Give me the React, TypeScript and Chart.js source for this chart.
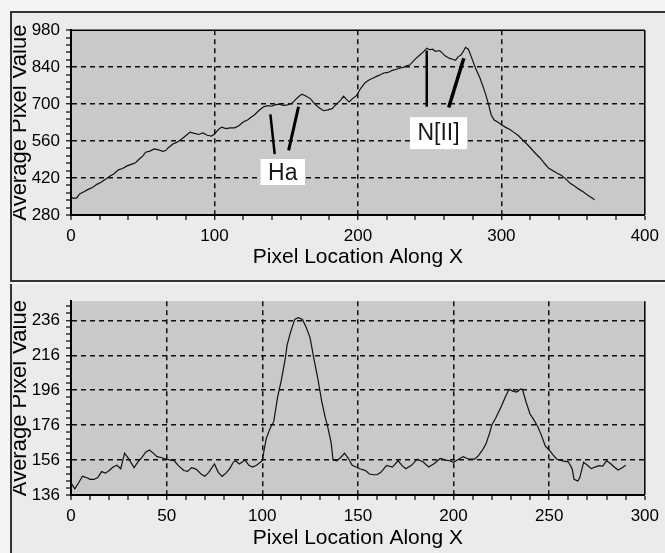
import { useEffect, useRef } from "react";
import { Chart, registerables } from "chart.js";

Chart.register(...registerables);

const FONT = "'Liberation Sans', Arial, sans-serif";

// upper profile (full spectrum)
const topX = [
  0, 2, 4, 6, 9, 12, 15, 18, 21, 24, 27, 30, 33, 36, 39, 42, 45, 48, 50, 52,
  55, 58, 61, 64, 66, 68, 71, 74, 77, 80, 83, 86, 89, 92, 95, 98, 100, 103, 105, 108,
  111, 114, 117, 120, 123, 126, 128, 131, 134, 137, 140, 142, 145, 148, 151, 154, 157, 159, 161, 164,
  167, 170, 173, 176, 179, 182, 185, 188, 190, 192, 194, 196, 199, 202, 205, 208, 211, 213, 216, 218,
  221, 224, 227, 229, 232, 234, 236, 239, 241, 243, 246, 248, 250, 252, 254, 257, 259, 261, 264, 266,
  268, 270, 272, 274, 275, 277, 279, 282, 285, 287, 289, 291, 293, 295, 298, 300, 303, 306, 309, 312,
  315, 318, 321, 324, 327, 330, 333, 336, 339, 342, 345, 348, 351, 354, 357, 360, 363, 365,
];
const topY = [
  347, 343, 345, 360, 368, 377, 384, 396, 404, 415, 427, 436, 451, 456, 466, 472, 478, 494, 503, 518,
  522, 530, 527, 521, 524, 536, 549, 556, 567, 580, 594, 589, 585, 591, 582, 579, 587, 605, 613, 607,
  610, 610, 618, 632, 640, 652, 660, 676, 689, 694, 692, 697, 700, 695, 697, 703, 720, 730, 738, 730,
  720, 700, 686, 675, 678, 683, 700, 715, 730, 718, 708, 720, 732, 760, 781, 792, 800, 805, 812, 818,
  820, 828, 832, 836, 840, 845, 848, 865, 876, 885, 900, 912, 906, 908, 900, 903, 892, 882, 873, 870,
  866, 880, 887, 905, 915, 908, 880, 836, 800, 770, 738, 700, 658, 640, 630, 622, 612, 604, 592, 580,
  563, 548, 530, 512, 496, 476, 457, 448, 438, 430, 416, 400, 390, 378, 368, 356, 345, 338,
];
const topXTicks = [0, 100, 200, 300, 400];
const topYTicks = [280, 420, 560, 700, 840, 980];

// lower profile (continuum removed)
const bottomX = [
  0, 2, 4, 6, 8, 10, 12, 14, 16, 18, 20, 22, 24, 26, 28, 30, 33, 35, 37, 39,
  41, 43, 45, 47, 50, 52, 54, 56, 59, 61, 63, 65, 66, 68, 70, 72, 75, 77, 79, 81,
  83, 85, 86, 88, 91, 93, 95, 97, 100, 101, 102, 104, 106, 108, 110, 112, 113, 115, 117, 119,
  121, 123, 125, 127, 129, 131, 133, 134, 136, 137, 139, 141, 143, 145, 147, 149, 151, 154, 156, 158,
  160, 162, 165, 168, 171, 173, 175, 178, 181, 184, 187, 190, 193, 196, 198, 200, 202, 205, 208, 211,
  213, 215, 217, 219, 220, 222, 225, 227, 229, 231, 233, 235, 236, 238, 240, 242, 244, 246, 248, 250,
  252, 254, 257, 260, 262, 263, 265, 266, 268, 270, 272, 274, 276, 278, 280, 282, 284, 286, 288, 290,
];
const bottomY = [
  143, 139.5, 143, 146.7, 146, 145, 144.9, 146, 149.4, 148.5, 150, 152, 153, 151, 160, 157, 151.7, 155, 157.4, 160.5,
  161.8, 160, 158, 157.5, 156.5, 156, 155.6, 153, 150, 149.5, 151.7, 151, 150.3, 148, 146.7, 149, 153.8, 149, 146.7, 148.5,
  151.1, 155, 155.6, 153.8, 156, 153, 152, 153, 155.6, 162, 168, 174, 178, 192, 202, 214, 222, 230, 236.7, 237.6,
  236.5, 232, 226, 214, 203, 190, 180, 176, 166, 156, 155.5, 157.5, 160, 157, 153, 152, 151, 150, 148, 147.6,
  147.6, 149, 153, 152, 155.6, 153, 151, 153, 156.5, 155, 152, 154, 156.9, 156, 155.6, 154.7, 156, 158, 156.5, 156.5,
  158.5, 161.5, 165.4, 172, 176.1, 180, 186.8, 192, 196.6, 195.5, 195, 196.6, 196.5, 189, 182.4, 179, 175.2, 170, 164, 161.8,
  159, 156.5, 155.5, 155, 151, 145, 144, 146, 154.7, 153, 151.1, 152, 152.8, 152.5, 155.6, 154, 152, 150.3, 151.5, 153,
];
const bottomXTicks = [0, 50, 100, 150, 200, 250, 300];
const bottomYTicks = [136, 156, 176, 196, 216, 236];

// pointer strokes and emission-line labels, in data units [x1, y1, x2, y2]
const topStrokes: number[][] = [
  [139, 661, 142, 511],
  [158.6, 690, 151.7, 525],
  [248, 903, 248, 690],
  [273.8, 874, 263.3, 687],
];
const topTags = [
  { text: "Ha", x: 147.6, y: 443 },
  { text: "N[II]", x: 256.2, y: 590 },
];

function steps(from: number, to: number, step: number) {
  const out: number[] = [];
  for (let v = from; v <= to + 1e-6; v += step) out.push(Math.round(v * 100) / 100);
  return out;
}

type Spec = {
  xs: number[];
  ys: number[];
  xTicks: number[];
  yTicks: number[];
  xMinor: number;
  yMinor: number;
  yMax: number;
  strokes: number[][];
  strokeWidths: number[];
  tags: { text: string; x: number; y: number }[];
  width: number;
  height: number;
  padTop: number;
  xAxisHeight: number;
  xTitlePad: number;
  topRule: boolean;
};

function decor(spec: Spec) {
  return {
    id: "decor",
    beforeDraw(chart: Chart) {
      const { ctx, chartArea: a } = chart;
      ctx.save();
      ctx.fillStyle = "#c9c9c9";
      ctx.fillRect(a.left, a.top, a.right - a.left, a.bottom - a.top);
      ctx.restore();
    },
    afterDatasetsDraw(chart: Chart) {
      const { ctx, chartArea: a } = chart;
      const x = chart.scales.x;
      const y = chart.scales.y;
      ctx.save();
      ctx.strokeStyle = "#000";
      ctx.lineWidth = 1.5;
      ctx.beginPath();
      ctx.moveTo(a.right, a.top);
      ctx.lineTo(a.right, a.bottom);
      if (spec.topRule) {
        ctx.moveTo(a.left, a.top);
        ctx.lineTo(a.right, a.top);
      }
      ctx.stroke();

      spec.strokes.forEach(([x1, y1, x2, y2], i) => {
        ctx.lineWidth = spec.strokeWidths[i];
        ctx.beginPath();
        ctx.moveTo(x.getPixelForValue(x1), y.getPixelForValue(y1));
        ctx.lineTo(x.getPixelForValue(x2), y.getPixelForValue(y2));
        ctx.stroke();
      });

      ctx.font = `23px ${FONT}`;
      ctx.textAlign = "center";
      ctx.textBaseline = "alphabetic";
      spec.tags.forEach((t) => {
        const m = ctx.measureText(t.text);
        const asc = m.actualBoundingBoxAscent;
        const desc = m.actualBoundingBoxDescent;
        const w = m.width + 15;
        const h = asc + desc + 9;
        const cx = x.getPixelForValue(t.x);
        const cy = y.getPixelForValue(t.y);
        ctx.fillStyle = "#fff";
        ctx.fillRect(cx - w / 2, cy - h / 2, w, h);
        ctx.fillStyle = "#1a1a1a";
        ctx.fillText(t.text, cx, cy + (asc - desc) / 2);
      });
      ctx.restore();
    },
  };
}

function Panel({ spec, left, top }: { spec: Spec; left: number; top: number }) {
  const canvasRef = useRef<HTMLCanvasElement>(null);
  const chartRef = useRef<Chart | null>(null);

  useEffect(() => {
    if (!canvasRef.current) return;
    if (chartRef.current) chartRef.current.destroy();

    const xMin = spec.xTicks[0];
    const xMax = spec.xTicks[spec.xTicks.length - 1];
    const yMin = spec.yTicks[0];
    const xAll = steps(xMin, xMax, (spec.xTicks[1] - spec.xTicks[0]) / spec.xMinor);
    const yAll = steps(yMin, spec.yMax, (spec.yTicks[1] - spec.yTicks[0]) / spec.yMinor);

    const tickFont = { family: FONT, size: 17 };
    const gridDash = [5, 4];

    chartRef.current = new Chart(canvasRef.current, {
      type: "line",
      data: {
        datasets: [
          {
            data: spec.xs.map((v, i) => ({ x: v, y: spec.ys[i] })),
            borderColor: "#111",
            borderWidth: 1.2,
            pointRadius: 0,
            tension: 0,
            fill: false,
          },
        ],
      },
      options: {
        animation: false,
        responsive: false,
        events: [],
        layout: { padding: { top: spec.padTop, right: 14, left: 0, bottom: 0 } },
        plugins: { legend: { display: false }, tooltip: { enabled: false } },
        scales: {
          x: {
            type: "linear",
            min: xMin,
            max: xMax,
            afterBuildTicks: (s: any) => {
              s.ticks = xAll.map((v) => ({ value: v }));
            },
            afterFit: (s: any) => {
              s.height = spec.xAxisHeight;
            },
            ticks: {
              autoSkip: false,
              maxRotation: 0,
              padding: 6,
              color: "#000",
              font: tickFont,
              callback: (v: any) => (spec.xTicks.includes(Number(v)) ? String(v) : ""),
            },
            grid: {
              color: "#111",
              lineWidth: (c: any) =>
                spec.xTicks.includes(c.tick?.value) && c.tick.value !== xMin && c.tick.value !== xMax ? 1.5 : 0,
              tickLength: 5,
              tickWidth: 1.2,
              tickColor: "#000",
            },
            border: { display: true, color: "#000", width: 2, dash: gridDash },
            title: {
              display: true,
              text: "Pixel Location Along X",
              color: "#000",
              font: { family: FONT, size: 21 },
              padding: { top: 0, bottom: spec.xTitlePad },
            },
          },
          y: {
            type: "linear",
            min: yMin,
            max: spec.yMax,
            afterBuildTicks: (s: any) => {
              s.ticks = yAll.map((v) => ({ value: v }));
            },
            afterFit: (s: any) => {
              s.width = 58;
            },
            ticks: {
              autoSkip: false,
              padding: 6,
              color: "#000",
              font: tickFont,
              callback: (v: any) => (spec.yTicks.includes(Number(v)) ? String(v) : ""),
            },
            grid: {
              color: "#111",
              lineWidth: (c: any) =>
                spec.yTicks.includes(c.tick?.value) && c.tick.value !== yMin && c.tick.value < spec.yMax ? 1.5 : 0,
              tickLength: 5,
              tickWidth: 1.2,
              tickColor: "#000",
            },
            border: { display: true, color: "#000", width: 2, dash: gridDash },
            title: {
              display: true,
              text: "Average Pixel Value",
              color: "#000",
              font: { family: FONT, size: 22, lineHeight: 0.6 },
              padding: 0,
            },
          },
        },
      },
      plugins: [decor(spec)],
    } as any);

    return () => {
      if (chartRef.current) {
        chartRef.current.destroy();
        chartRef.current = null;
      }
    };
  }, [spec]);

  return (
    <canvas
      ref={canvasRef}
      width={spec.width}
      height={spec.height}
      style={{ position: "absolute", left, top, width: spec.width, height: spec.height }}
    />
  );
}

const topSpec: Spec = {
  xs: topX,
  ys: topY,
  xTicks: topXTicks,
  yTicks: topYTicks,
  xMinor: 5,
  yMinor: 5,
  yMax: 980,
  strokes: topStrokes,
  strokeWidths: [2.5, 3, 2.5, 3.5],
  tags: topTags,
  width: 652,
  height: 265,
  padTop: 10,
  xAxisHeight: 64,
  xTitlePad: 9,
  topRule: true,
};

const bottomSpec: Spec = {
  xs: bottomX,
  ys: bottomY,
  xTicks: bottomXTicks,
  yTicks: bottomYTicks,
  xMinor: 5,
  yMinor: 5,
  yMax: 247,
  strokes: [],
  strokeWidths: [],
  tags: [],
  width: 652,
  height: 268,
  padTop: 3,
  xAxisHeight: 58,
  xTitlePad: 2,
  topRule: false,
};

export default function App() {
  return (
    <div
      style={{
        position: "absolute",
        left: 0,
        top: 0,
        width: 665,
        height: 553,
        overflow: "hidden",
        background: "#f4f4f4",
      }}
    >
      <div
        style={{
          position: "absolute",
          left: 10,
          top: 11,
          width: 680,
          height: 271,
          boxSizing: "border-box",
          border: "2px solid #333",
          background: "#ebebeb",
        }}
      />
      <div
        style={{
          position: "absolute",
          left: 10,
          top: 284,
          width: 680,
          height: 280,
          boxSizing: "border-box",
          borderLeft: "2px solid #333",
          background: "#ebebeb",
        }}
      />
      <Panel spec={topSpec} left={13} top={14} />
      <Panel spec={bottomSpec} left={13} top={285} />
    </div>
  );
}
